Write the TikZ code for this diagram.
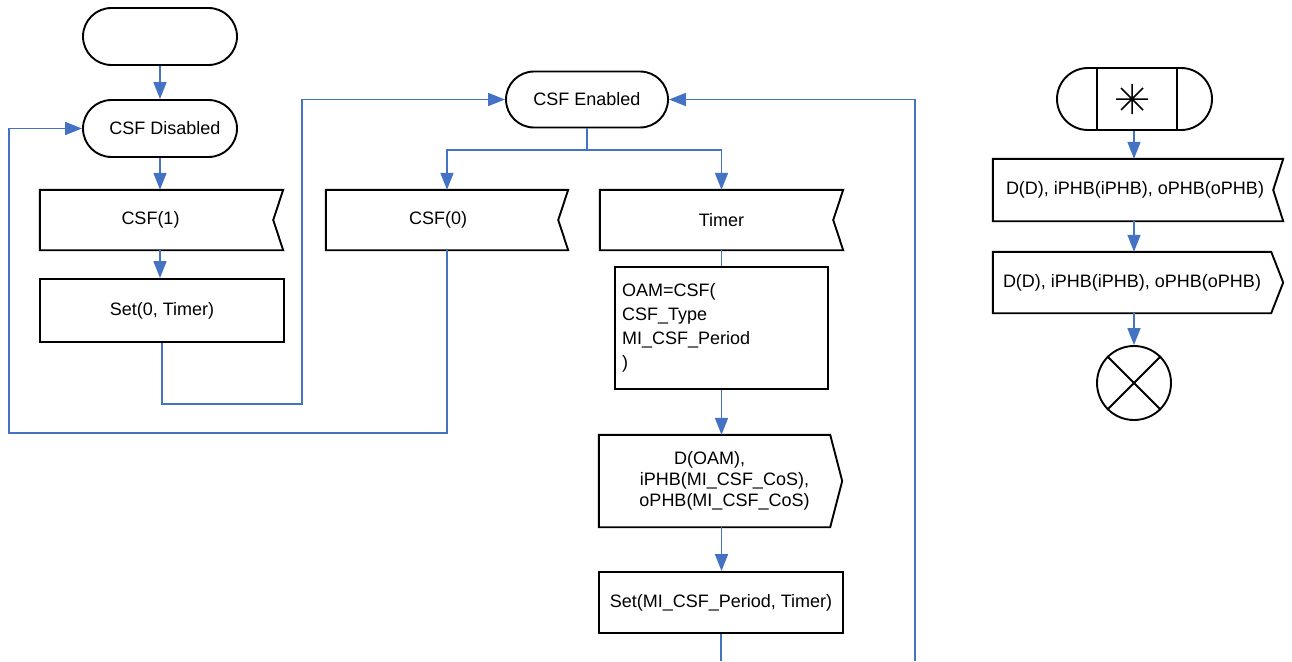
\documentclass[tikz,border=0pt]{standalone}
\usepackage{fontspec}
\setmainfont{Liberation Sans}
\usetikzlibrary{shapes.misc,arrows.meta}
\definecolor{flow}{HTML}{4472C4}
\begin{document}
\begin{tikzpicture}[x=1pt,y=-1pt,
  every node/.style={font=\fontsize{18}{22}\selectfont},
  term/.style={rounded rectangle, draw=black, line width=1.9pt, inner sep=0pt},
  box/.style={rectangle, draw=black, line width=1.9pt, inner sep=0pt},
  sig/.style={rectangle, draw=none, inner sep=0pt},
  outline/.style={draw=black, line width=1.9pt, line join=miter},
  flowline/.style={draw=flow, line width=1.7pt},
  arr/.style={flowline, -{Triangle[length=17pt,width=13pt]}}
]
\useasboundingbox (0,0) rectangle (1292,661);

% ---------- left column ----------
\node[term, minimum width=154pt, minimum height=57pt] (start) at (160,36.5) {};
\node[term, minimum width=154pt, minimum height=57pt] (dis) at (160,128.5) {\hspace*{10pt}CSF Disabled};
\node[sig, minimum width=243pt, minimum height=60pt] (csf1) at (161.5,220) {CSF(1)\hspace*{22pt}};
\draw[outline] (csf1.north west) -- (csf1.north east) -- ([xshift=-10pt]csf1.east) -- (csf1.south east) -- (csf1.south west) -- cycle;
\node[box, minimum width=244pt, minimum height=63pt] (set0) at (162,310.5) {Set(0, Timer)};

% ---------- middle ----------
\node[term, minimum width=162pt, minimum height=56pt] (en) at (587,99.5) {CSF Enabled};
\node[sig, minimum width=242pt, minimum height=60pt] (csf0) at (447,220) {CSF(0)\hspace*{18pt}};
\draw[outline] (csf0.north west) -- (csf0.north east) -- ([xshift=-10pt]csf0.east) -- (csf0.south east) -- (csf0.south west) -- cycle;
\node[sig, minimum width=243pt, minimum height=60pt] (timer) at (721.5,220) {Timer};
\draw[outline] (timer.north west) -- (timer.north east) -- ([xshift=-10pt]timer.east) -- (timer.south east) -- (timer.south west) -- cycle;
\node[box, minimum width=213pt, minimum height=122pt, text width=199pt, align=left,
      font=\fontsize{18}{24}\selectfont] (oam) at (721.5,328)
  {OAM=CSF(\\CSF\_Type\\MI\_CSF\_Period\\)\\[6pt]};
\node[sig, minimum width=231pt, minimum height=92pt, align=center, font=\fontsize{18}{21}\selectfont] (outp) at (714.5,481)
  {\hspace*{20pt}D(OAM),\hspace*{30pt}\\\hspace*{20pt}iPHB(MI\_CSF\_CoS),\\\hspace*{20pt}oPHB(MI\_CSF\_CoS)};
\draw[outline] (outp.north west) -- (outp.north east) -- ([xshift=12pt]outp.east) -- (outp.south east) -- (outp.south west) -- cycle;
\node[box, minimum width=244pt, minimum height=61pt] (setp) at (721,602.5) {Set(MI\_CSF\_Period, Timer)};

% ---------- right column ----------
\node[term, minimum width=155pt, minimum height=62pt] (term2) at (1134.5,99) {};
\draw[outline] ([xshift=-37.5pt]term2.north) -- ([xshift=-37.5pt]term2.south);
\draw[outline] ([xshift=42.5pt]term2.north) -- ([xshift=42.5pt]term2.south);
\draw[black, line width=1.5pt] (1116,99) -- (1148,99) (1132,84) -- (1132,114)
  (1121,88) -- (1143,110) (1121,110) -- (1143,88);
\node[sig, minimum width=290pt, minimum height=62pt] (in2) at (1138,190) {D(D), iPHB(iPHB), oPHB(oPHB)\hspace*{6pt}};
\draw[outline] (in2.north west) -- (in2.north east) -- ([xshift=-10pt]in2.east) -- (in2.south east) -- (in2.south west) -- cycle;
\node[sig, minimum width=278pt, minimum height=61pt] (out2) at (1132,282.5) {D(D), iPHB(iPHB), oPHB(oPHB)};
\draw[outline] (out2.north west) -- (out2.north east) -- ([xshift=12pt]out2.east) -- (out2.south east) -- (out2.south west) -- cycle;
\node[circle, draw=black, line width=1.9pt, minimum size=74pt, inner sep=0pt] (stop) at (1134,383) {};
\draw[outline] (stop.north west) -- (stop.south east);
\draw[outline] (stop.north east) -- (stop.south west);

% ---------- connectors ----------
\coordinate (split) at (587,150);
\coordinate (l1) at (302,404);
\coordinate (l2) at (9,433);
\coordinate (r0) at (915,661);
\coordinate (b0) at (721,661);

\draw[arr] (start) -- (dis);
\draw[arr] (dis) -- (dis.south |- csf1.north);
\draw[arr] (dis.south |- csf1.south) -- (dis.south |- set0.north);
\draw[arr] (set0.south) |- (l1) |- (en.west);
\draw[arr] (csf0.south) |- (l2) |- (dis.west);
\draw[flowline] (en.south) -- (split);
\draw[arr] (split) -| (csf0.north);
\draw[arr] (split) -| (timer.north);
\draw[flowline] (timer.south) -- (oam.north);
\draw[arr] (oam.south) -- (oam.south |- outp.north);
\draw[arr] (oam.south |- outp.south) -- (oam.south |- setp.north);
\draw[flowline] (setp.south) -- (b0);
\draw[arr] (r0) |- (en.east);

\draw[arr] (stop.north |- term2.south) -- (stop.north |- in2.north);
\draw[arr] (stop.north |- in2.south) -- (stop.north |- out2.north);
\draw[arr] (stop.north |- out2.south) -- (stop.north);
\end{tikzpicture}
\end{document}
